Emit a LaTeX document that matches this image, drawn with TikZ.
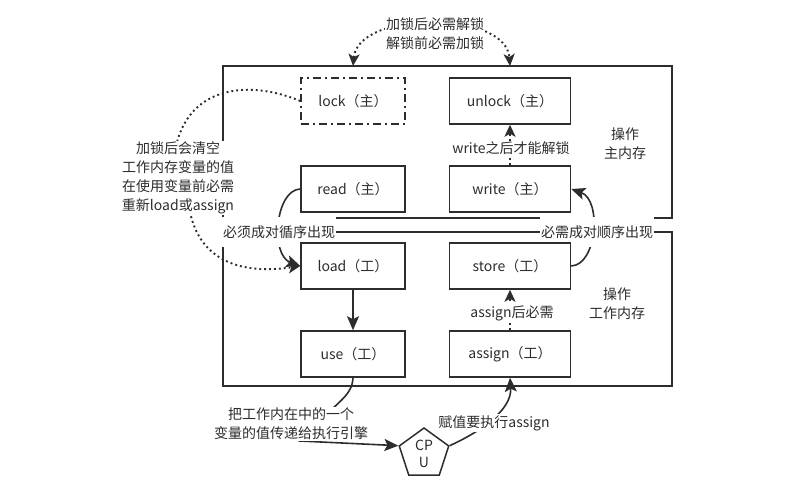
\documentclass[tikz,border=0pt]{standalone}
\usepackage{fontspec}
\setmainfont{Noto Sans CJK SC}
\usetikzlibrary{arrows.meta,shapes.geometric,backgrounds}
\definecolor{memInk}{RGB}{45,45,45}

\begin{document}
\begin{tikzpicture}[x=1pt,y=-1pt,
      every node/.style={text=memInk,font=\fontsize{14}{19}\selectfont},
      blk/.style={draw=memInk,line width=1.5pt,fill=white,minimum height=46pt,minimum width=104pt},
      wblk/.style={blk,minimum width=121pt},
      lk/.style={blk,dash pattern=on 8pt off 4pt on 2pt off 4pt},
      note/.style={fill=white,align=center,inner sep=1pt},
      tag/.style={fill=white,inner xsep=1pt,minimum height=30pt},
      frame/.style={draw=memInk,line width=1.5pt},
      arr/.style={draw=memInk,line width=1.6pt,-{Stealth[length=14pt,width=12pt,inset=3pt]}},
      dotarr/.style={draw=memInk,line width=1.9pt,dash pattern=on 1.9pt off 3pt,-{Stealth[length=12pt,width=11pt,inset=3pt]}}]
    \useasboundingbox (0,0) rectangle (806,480);
    \coordinate (mainTL) at (223,66);
    \coordinate (mainBR) at (672,218);
    \coordinate (workTL) at (223,232);
    \coordinate (workBR) at (672,386);
    % labels sitting on the two frames
    \node[tag] (pairL) at (279,232) {必须成对循序出现};
    \node[tag] (pairR) at (597,232) {必需成对顺序出现};
    % main memory
    \node[lk] (lock) at (353,101) {lock（主）};
    \node[wblk] (unlock) at (510,101) {unlock（主）};
    \node[blk] (read) at (353,189) {read（主）};
    \node[wblk] (write) at (510,189) {write（主）};
    % working memory
    \node[blk] (load) at (353,266) {load（工）};
    \node[wblk] (store) at (510,266) {store（工）};
    \node[blk] (use) at (353,354) {use（工）};
    \node[wblk] (assign) at (510,354) {assign（工）};
    \node[draw=memInk,line width=1.5pt,fill=white,regular polygon,regular polygon sides=5,
          minimum size=52pt,inner sep=0pt,align=center,font=\fontsize{14}{17}\selectfont] (cpu) at (424,454) {CP\\U};
    % notes
    \node[note] (lockNote) at (435,34) {加锁后必需解锁\\解锁前必需加锁};
    \node[note] (clearNote) at (178,178) {加锁后会清空\\工作内存变量的值\\在使用变量前必需\\重新load或assign};
    \node[note] (writeNote) at (511,148) {write之后才能解锁};
    \node[note] (assignNote) at (512,313) {assign后必需};
    \node[note] (opMain) at (625,144) {操作\\主内存};
    \node[note] (opWork) at (617,304) {操作\\工作内存};
    \node[note] (useNote) at (291,424) {把工作内在中的一个\\变量的值传递给执行引擎};
    \node[note] (cpuNote) at (494,423) {赋值要执行assign};
    \begin{scope}[on background layer]
      \draw[frame] (mainTL) rectangle (mainBR);
      \draw[frame] (workTL) rectangle (workBR);
      \draw[dotarr,{Stealth[length=12pt,width=11pt,inset=3pt]}-{Stealth[length=12pt,width=11pt,inset=3pt]}]
        (lock.north |- mainTL) .. controls (358,10) and (506,10) .. (unlock.north |- mainTL);
      \draw[dotarr] (lock.west) .. controls (250,80) and (190,85) .. (176,146)
        -- (190,212) .. controls (200,260) and (240,275) .. (load.west);
      \draw[dotarr] (write.north) -- (unlock.south);
      \draw[dotarr] (assign.north) -- (store.south);
      \draw[arr] (read.west) .. controls (275,190) and (270,255) .. (load.west);
      \draw[arr] (store.east) .. controls (597,265) and (602,200) .. (write.east);
      \draw[arr] (load) -- (use);
      \draw[arr] (use.south) .. controls (352,398) and (335,402) .. (300,441) -- (cpu.corner 2);
      \draw[arr] (cpu.corner 5) .. controls (480,432) and (512,410) .. (assign.south);
    \end{scope}
\end{tikzpicture}
\end{document}
